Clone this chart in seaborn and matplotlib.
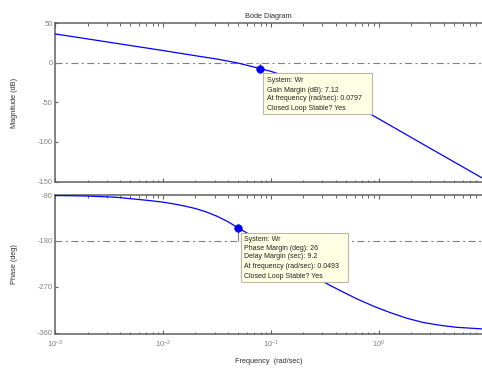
import numpy as np
import pandas as pd
import matplotlib
matplotlib.use("Agg")
import matplotlib.pyplot as plt
from matplotlib.patches import Rectangle
from matplotlib.ticker import LogLocator, NullFormatter, LogFormatterSciNotation
import seaborn as sns

# ---- data ----
mag_freq = [0.001, 0.002, 0.00316, 0.01, 0.02, 0.0316, 0.0493, 0.0797, 0.1, 0.158,
            0.2, 0.316, 0.5, 0.855, 1.8, 2.77, 9.0]
mag_db = [36.8, 30.5, 26.3, 15.8, 9.2, 5.0, 0.0, -7.12, -10.6, -19.5,
          -24.5, -36.5, -49.5, -65.5, -90.8, -105.5, -145.4]

ph_freq = [0.001, 0.002, 0.00372, 0.00759, 0.01, 0.0126, 0.0158, 0.02, 0.0251, 0.0316,
           0.0398, 0.0493, 0.0596, 0.0797, 0.1, 0.158, 0.2, 0.251, 0.305, 0.447,
           0.621, 0.9, 1.265, 1.8, 2.57, 3.7, 5.24, 9.0]
ph_deg = [-91, -92, -94.5, -101, -104, -107.5, -111.5, -116.5, -123, -131.5,
          -142, -154, -164, -180, -194, -222, -236, -249, -260, -278,
          -293, -308, -320, -331, -339.5, -345, -348.9, -352]

gm_freq = [0.0797]
gm_mag = [-7.12]
pm_freq = [0.0493]
pm_phase = [-154]

mag_ticks = [50, 0, -50, -100, -150]
ph_ticks = [-90, -180, -270, -360]
x_ticks = [1e-3, 1e-2, 1e-1, 1e0]

gm_text = ["System: Wr", "Gain Margin (dB): 7.12",
           "At frequency (rad/sec): 0.0797", "Closed Loop Stable? Yes"]
pm_text = ["System: Wr", "Phase Margin (deg): 26", "Delay Margin (sec): 9.2",
           "At frequency (rad/sec): 0.0493", "Closed Loop Stable? Yes"]

# ---- style ----
sns.set_theme(style="white")
plt.rcParams['font.family'] = ['Liberation Sans', 'DejaVu Sans']
plt.rcParams['mathtext.fontset'] = 'custom'
plt.rcParams['mathtext.rm'] = 'Liberation Sans'
plt.rcParams['mathtext.it'] = 'Liberation Sans'

W, H = 482, 370
fig = plt.figure(figsize=(W / 100, H / 100), dpi=100)
fig.patch.set_facecolor('white')

def fx(px):
    return px / W

def fy(py):
    return 1 - py / H

left, right = 55, 482
ax1 = fig.add_axes([fx(left), fy(181.5), fx(right - left), (181.5 - 23.5) / H])
ax2 = fig.add_axes([fx(left), fy(334), fx(right - left), (334 - 195) / H])

mag_df = pd.DataFrame({"f": mag_freq, "m": mag_db})
ph_df = pd.DataFrame({"f": ph_freq, "p": ph_deg})

ref_color = '#7f7f7f'
dash = (0, (6.3, 3.1, 1.8, 3.1))
spine_col = '#606060'
tick_col = '#808080'

for ax in (ax1, ax2):
    ax.set_xscale('log')
    ax.set_xlim(1e-3, 9.0)
    ax.set_facecolor('white')
    for s in ('top', 'bottom', 'left'):
        ax.spines[s].set_color(spine_col)
        ax.spines[s].set_linewidth(1.1)
    ax.spines['right'].set_visible(False)
    ax.xaxis.set_major_locator(LogLocator(base=10))
    ax.xaxis.set_minor_locator(LogLocator(base=10, subs=np.arange(2, 10)))
    ax.xaxis.set_minor_formatter(NullFormatter())
    ax.tick_params(axis='x', which='major', direction='in', top=True, bottom=True,
                   length=3.2, width=0.8, color=spine_col)
    ax.tick_params(axis='x', which='minor', direction='in', top=True, bottom=True,
                   length=1.8, width=0.7, color=spine_col)
    ax.tick_params(axis='y', which='major', direction='in', left=True, right=False,
                   length=2.5, width=0.8, color=spine_col, labelsize=5.4,
                   labelcolor=tick_col, pad=1.5)
    ax.grid(False)

# magnitude
ax1.axhline(0, color=ref_color, lw=0.8, ls=dash, zorder=1)
sns.lineplot(data=mag_df, x="f", y="m", ax=ax1, color='#0000ff', lw=0.9, zorder=3)
ax1.vlines(gm_freq, gm_mag, [0], color=ref_color, lw=0.8, zorder=2)
sns.scatterplot(x=gm_freq, y=gm_mag, ax=ax1, color='#0000ff', s=30, edgecolor='#0000ff',
                zorder=4)
ax1.set_ylim(-150, 50)
ax1.set_yticks(mag_ticks)
ax1.set_yticklabels([str(v) for v in mag_ticks])
ax1.tick_params(axis='x', labelbottom=False)
ax1.set_xlabel('')
ax1.set_ylabel('Magnitude (dB)', fontsize=5.3, color='#303030')
ax1.yaxis.set_label_coords(-(55 - 18) / 427, 0.5)
ax1.set_title('Bode Diagram', fontsize=5.3, color='#303030', pad=4)

# phase
ax2.axhline(-180, color=ref_color, lw=0.8, ls=dash, zorder=1)
sns.lineplot(data=ph_df, x="f", y="p", ax=ax2, color='#0000ff', lw=0.9, zorder=3)
ax2.vlines(pm_freq, [-180], pm_phase, color=ref_color, lw=0.8, zorder=2)
sns.scatterplot(x=pm_freq, y=pm_phase, ax=ax2, color='#0000ff', s=30, edgecolor='#0000ff',
                zorder=4)
ax2.set_ylim(-362, -90)
ax2.set_yticks(ph_ticks)
ax2.set_yticklabels([str(v) for v in ph_ticks])
ax2.set_xticks(x_ticks)
ax2.xaxis.set_major_formatter(LogFormatterSciNotation())
ax2.tick_params(axis='x', which='major', labelsize=5.4, labelcolor=tick_col, pad=3.5)
ax2.set_ylabel('Phase (deg)', fontsize=5.3, color='#303030')
ax2.yaxis.set_label_coords(-(55 - 18) / 427, 0.5)
ax2.set_xlabel('Frequency  (rad/sec)', fontsize=5.3, color='#303030')
ax2.xaxis.set_label_coords(0.5, -(358 - 334) / 139)

# tooltip boxes
def tooltip(x0, y0, x1, y1, tx, ys, lines):
    r = Rectangle((fx(x0), fy(y1)), fx(x1 - x0), (y1 - y0) / H,
                  transform=fig.transFigure, facecolor='#ffffe4',
                  edgecolor='#b8b8a8', lw=0.8, zorder=10)
    fig.patches.append(r)
    for yy, t in zip(ys, lines):
        fig.text(fx(tx), fy(yy), t, fontsize=5.0, color='#202020',
                 ha='left', va='center', zorder=11)

tooltip(263.3, 73.3, 372, 114.3, 267.3, [81, 90, 99, 108], gm_text)
tooltip(240.7, 233.3, 348.3, 282.3, 244, [239.5, 248, 257, 266.5, 276], pm_text)

fig.savefig('out.png', dpi=100, facecolor='white')
